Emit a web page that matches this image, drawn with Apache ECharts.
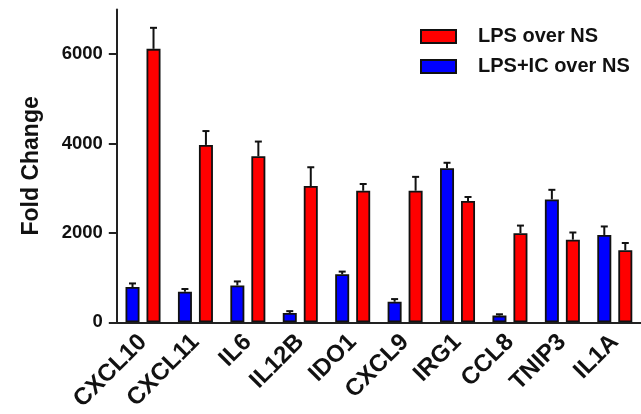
<!DOCTYPE html>
<html>
<head>
<meta charset="utf-8">
<script src="https://cdn.jsdelivr.net/npm/echarts@6/dist/echarts.min.js"></script>
<style>
html,body{margin:0;padding:0;background:#fff;}
#chart{width:641px;height:414px;}
</style>
</head>
<body>
<div id="chart"></div>
<script>
var categories = ['CXCL10','CXCL11','IL6','IL12B','IDO1','CXCL9','IRG1','CCL8','TNIP3','IL1A'];
var lpsIcValues = [790, 685, 825, 210, 1075, 460, 3450, 150, 2750, 1955];
var lpsIcErrors = [80, 60, 90, 40, 60, 60, 120, 30, 215, 190];
var lpsValues = [6120, 3970, 3715, 3050, 2945, 2945, 2715, 1995, 1850, 1615];
var lpsErrors = [470, 310, 330, 420, 150, 310, 90, 170, 160, 160];
var yTicks = [0, 2000, 4000, 6000];
var seriesNames = ['LPS over NS', 'LPS+IC over NS'];

var FONT = 'Liberation Sans, Arial, sans-serif';
var BAR_W = 14;

function errRender(offset) {
  return function (params, api) {
    var i = api.value(0), v = api.value(1), e = api.value(2);
    var p0 = api.coord([i, v]);
    var p1 = api.coord([i, v + e]);
    var x = p0[0] + offset;
    var st = { stroke: '#111', lineWidth: 2 };
    return {
      type: 'group',
      children: [
        { type: 'line', shape: { x1: x, y1: p0[1], x2: x, y2: p1[1] }, style: st },
        { type: 'line', shape: { x1: x - 3.5, y1: p1[1], x2: x + 3.5, y2: p1[1] }, style: st }
      ]
    };
  };
}

var chart = echarts.init(document.getElementById('chart'), null, { renderer: 'canvas' });
chart.setOption({
  backgroundColor: '#fff',
  animation: false,
  grid: { left: 116.8, right: -5.5, top: 9.5, bottom: 90.7 },
  legend: {
    data: seriesNames,
    orient: 'vertical',
    left: 420,
    top: 26.5,
    padding: 0,
    icon: 'rect',
    itemWidth: 35,
    itemHeight: 13,
    itemGap: 10,
    textStyle: { fontFamily: FONT, fontWeight: 'bold', fontSize: 20, color: '#111', padding: [0, 0, 0, 17], lineHeight: 20 }
  },
  xAxis: {
    type: 'category',
    data: categories,
    axisLine: { lineStyle: { color: '#222', width: 2 } },
    axisTick: { alignWithLabel: true, length: 8, lineStyle: { color: '#222', width: 2 } },
    axisLabel: { interval: 0, rotate: 45, margin: 16, fontFamily: FONT, fontWeight: 'bold', fontSize: 24, color: '#111' }
  },
  yAxis: {
    type: 'value',
    min: 0,
    max: 7000,
    interval: 1000,
    name: 'Fold Change',
    nameLocation: 'middle',
    nameRotate: 90,
    nameGap: 74,
    nameTextStyle: { fontFamily: FONT, fontWeight: 'bold', fontSize: 23, color: '#111' },
    splitLine: { show: false },
    axisLine: { show: true, lineStyle: { color: '#222', width: 2 } },
    axisTick: { show: true, length: 8, customValues: yTicks, lineStyle: { color: '#222', width: 2 } },
    axisLabel: {
      customValues: yTicks, margin: 14, fontFamily: FONT, fontWeight: 'bold', fontSize: 18.5, color: '#111',
      formatter: function (v) { return String(v); }
    }
  },
  series: [
    {
      name: seriesNames[1], type: 'bar', data: lpsIcValues, barWidth: BAR_W, barGap: '50%', z: 3,
      itemStyle: { color: '#0000FF', borderColor: '#111', borderWidth: 1.8 }
    },
    {
      name: seriesNames[0], type: 'bar', data: lpsValues, barWidth: BAR_W, barGap: '50%', z: 3,
      itemStyle: { color: '#FF0000', borderColor: '#111', borderWidth: 1.8 }
    },
    {
      type: 'custom', z: 2, renderItem: errRender(-10.5),
      encode: { x: 0, y: 1 },
      data: categories.map(function (c, i) { return [i, lpsIcValues[i], lpsIcErrors[i]]; })
    },
    {
      type: 'custom', z: 2, renderItem: errRender(10.5),
      encode: { x: 0, y: 1 },
      data: categories.map(function (c, i) { return [i, lpsValues[i], lpsErrors[i]]; })
    }
  ]
});
</script>
</body>
</html>
